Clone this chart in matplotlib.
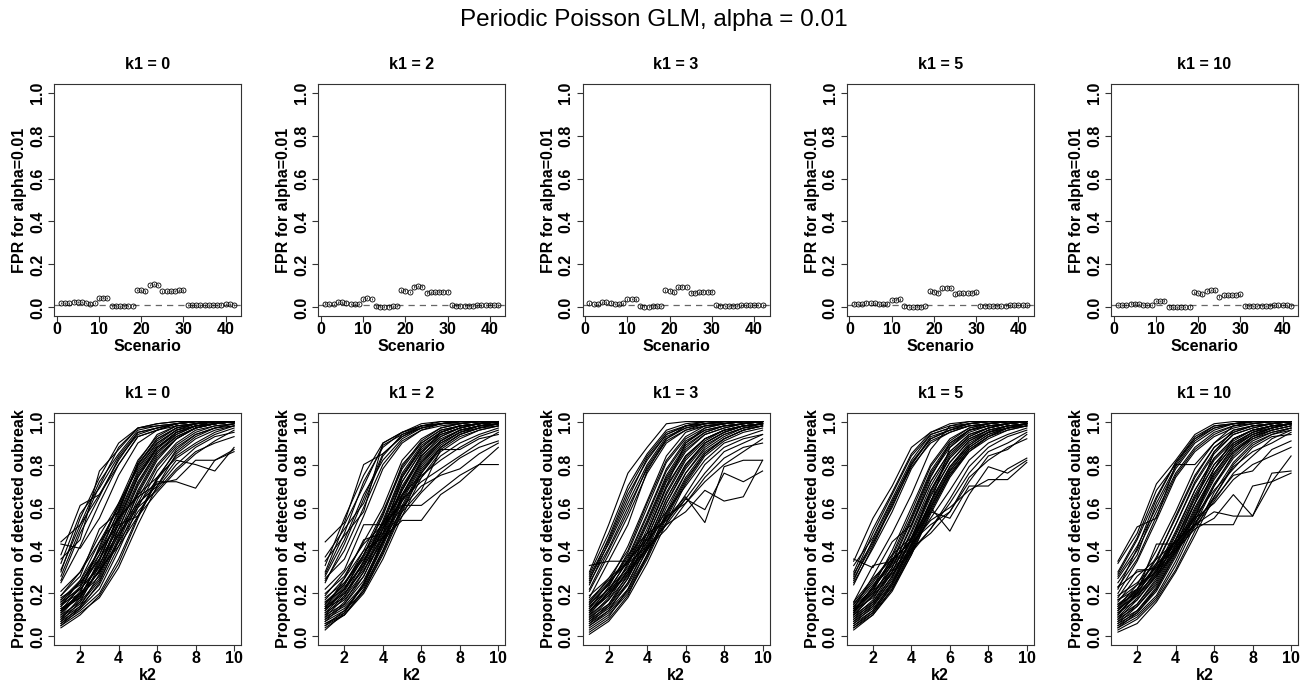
"""FPR and detection power of the periodic Poisson GLM, alpha = 0.01,
for several values of k1 (top: FPR per scenario, bottom: detection vs k2)."""
import numpy as np
import matplotlib
matplotlib.use("Agg")
import matplotlib.pyplot as plt

plt.rcParams["font.family"] = ["Liberation Sans", "DejaVu Sans"]

k1_values = [0, 2, 3, 5, 10]
scenarios = np.arange(1, 43)
k2_values = np.arange(1, 11)
alpha = 0.01

# false positive rate per scenario
fpr_k1_0 = [0.020, 0.019, 0.019, 0.027, 0.025, 0.025, 0.020, 0.017, 0.020,
            0.042, 0.045, 0.044,
            0.006, 0.005, 0.005, 0.006, 0.006, 0.007,
            0.081, 0.080, 0.075,
            0.105, 0.108, 0.105,
            0.075, 0.075, 0.075, 0.077, 0.080, 0.080,
            0.011, 0.010, 0.009, 0.009, 0.009, 0.009, 0.012, 0.012, 0.013, 0.015, 0.014, 0.012]
fpr_k1_2 = [0.017, 0.016, 0.016, 0.023, 0.023, 0.022, 0.016, 0.014, 0.016,
            0.038, 0.044, 0.039,
            0.005, 0.003, 0.003, 0.003, 0.005, 0.006,
            0.080, 0.078, 0.072,
            0.097, 0.100, 0.097,
            0.069, 0.070, 0.070, 0.073, 0.073, 0.073,
            0.009, 0.008, 0.008, 0.008, 0.008, 0.008, 0.010, 0.010, 0.011, 0.013, 0.012, 0.010]
fpr_k1_3 = [0.019, 0.016, 0.014, 0.023, 0.023, 0.022, 0.016, 0.016, 0.019,
            0.038, 0.039, 0.038,
            0.005, 0.003, 0.003, 0.005, 0.005, 0.006,
            0.080, 0.078, 0.070,
            0.094, 0.097, 0.095,
            0.069, 0.069, 0.070, 0.073, 0.073, 0.073,
            0.009, 0.008, 0.007, 0.007, 0.007, 0.008, 0.009, 0.010, 0.010, 0.012, 0.011, 0.009]
fpr_k1_5 = [0.017, 0.016, 0.016, 0.022, 0.020, 0.019, 0.014, 0.014, 0.017,
            0.034, 0.036, 0.038,
            0.005, 0.002, 0.002, 0.003, 0.003, 0.006,
            0.075, 0.073, 0.069,
            0.089, 0.092, 0.091,
            0.061, 0.066, 0.066, 0.067, 0.069, 0.070,
            0.008, 0.007, 0.006, 0.006, 0.006, 0.007, 0.008, 0.009, 0.009, 0.011, 0.010, 0.009]
fpr_k1_10 = [0.012, 0.011, 0.012, 0.017, 0.017, 0.016, 0.012, 0.011, 0.012,
             0.030, 0.030, 0.031,
             0.003, 0.000, 0.000, 0.002, 0.002, 0.003,
             0.070, 0.067, 0.061,
             0.077, 0.081, 0.080,
             0.050, 0.056, 0.056, 0.058, 0.058, 0.061,
             0.008, 0.007, 0.006, 0.006, 0.006, 0.007, 0.008, 0.009, 0.009, 0.011, 0.010, 0.008]

# proportion of detected outbreaks (percent), one row per scenario, columns k2 = 1..10
detect_k1_0 = [
    [44, 52, 66, 82, 95, 97, 99, 100, 100, 100],
    [43, 41, 55, 75, 90, 96, 99, 100, 100, 100],
    [38, 61, 66, 80, 93, 96, 99, 100, 100, 100],
    [36, 45, 77, 87, 97, 98, 99, 100, 100, 100],
    [31, 52, 72, 85, 96, 98, 99, 100, 100, 100],
    [28, 50, 70, 88, 97, 99, 100, 100, 100, 100],
    [26, 48, 65, 83, 94, 97, 99, 100, 100, 100],
    [30, 55, 74, 90, 97, 99, 100, 100, 100, 100],
    [25, 42, 62, 80, 93, 96, 98, 99, 100, 100],
    [34, 57, 69, 84, 95, 97, 99, 100, 100, 100],
    [21, 30, 47, 62, 78, 90, 96, 99, 100, 100],
    [18, 24, 40, 58, 80, 92, 97, 99, 100, 100],
    [17, 25, 36, 55, 74, 88, 95, 98, 99, 100],
    [16, 22, 33, 52, 72, 86, 94, 98, 99, 100],
    [15, 20, 30, 50, 70, 85, 93, 97, 99, 100],
    [14, 26, 44, 60, 79, 90, 96, 99, 100, 100],
    [13, 19, 28, 48, 68, 84, 92, 97, 99, 100],
    [12, 18, 35, 57, 77, 89, 96, 98, 100, 100],
    [11, 21, 38, 59, 80, 91, 97, 99, 100, 100],
    [10, 16, 27, 46, 66, 82, 92, 97, 99, 100],
    [10, 20, 42, 62, 82, 93, 98, 99, 100, 100],
    [9, 17, 31, 53, 74, 87, 95, 98, 99, 100],
    [9, 15, 26, 44, 64, 80, 90, 96, 98, 99],
    [8, 14, 24, 42, 62, 79, 89, 95, 98, 99],
    [8, 18, 36, 56, 76, 88, 95, 98, 99, 100],
    [7, 13, 22, 40, 60, 77, 88, 94, 97, 99],
    [7, 16, 33, 54, 75, 88, 94, 98, 99, 100],
    [6, 12, 20, 36, 56, 74, 86, 93, 97, 98],
    [6, 14, 29, 50, 71, 86, 93, 97, 99, 100],
    [5, 11, 18, 32, 52, 70, 85, 92, 96, 98],
    [5, 13, 25, 45, 67, 83, 92, 97, 99, 100],
    [4, 10, 19, 34, 55, 73, 87, 94, 97, 99],
    [12, 23, 41, 61, 80, 92, 97, 99, 100, 100],
    [19, 28, 50, 58, 81, 94, 98, 99, 100, 100],
    [17, 26, 40, 52, 56, 72, 72, 69, 82, 86],
    [15, 23, 36, 50, 62, 70, 82, 80, 77, 88],
    [19, 30, 44, 55, 65, 71, 73, 82, 82, 87],
    [14, 22, 32, 47, 60, 68, 78, 86, 90, 93],
    [12, 20, 30, 44, 58, 69, 80, 88, 93, 95],
    [16, 25, 38, 55, 66, 74, 83, 89, 94, 97],
    [13, 18, 31, 42, 56, 67, 77, 85, 91, 96],
    [11, 19, 34, 48, 61, 73, 84, 90, 95, 98],
]
detect_k1_2 = [
    [44, 53, 80, 85, 93, 98, 99, 100, 100, 100],
    [37, 50, 62, 84, 94, 97, 99, 100, 100, 100],
    [35, 47, 58, 90, 95, 98, 100, 100, 100, 100],
    [30, 52, 70, 89, 94, 98, 99, 100, 100, 100],
    [28, 45, 66, 82, 92, 97, 99, 100, 100, 100],
    [26, 40, 60, 80, 91, 96, 99, 99, 100, 100],
    [29, 48, 72, 88, 95, 99, 100, 100, 100, 100],
    [25, 43, 64, 85, 93, 97, 99, 100, 100, 100],
    [33, 55, 75, 90, 95, 98, 99, 100, 100, 100],
    [27, 36, 56, 78, 90, 96, 98, 99, 100, 100],
    [22, 31, 52, 52, 68, 85, 95, 98, 99, 100],
    [20, 28, 44, 60, 82, 92, 97, 99, 100, 100],
    [18, 25, 38, 56, 80, 90, 96, 98, 99, 100],
    [16, 22, 34, 53, 75, 88, 95, 98, 99, 100],
    [15, 24, 40, 58, 79, 91, 97, 99, 100, 100],
    [14, 20, 32, 50, 72, 86, 93, 97, 99, 100],
    [13, 18, 30, 48, 70, 84, 92, 96, 98, 99],
    [12, 22, 38, 57, 78, 90, 96, 98, 99, 100],
    [11, 17, 28, 46, 68, 83, 91, 96, 98, 99],
    [10, 19, 35, 54, 76, 89, 95, 98, 99, 100],
    [10, 15, 26, 44, 66, 81, 90, 95, 98, 99],
    [9, 18, 33, 52, 74, 87, 94, 97, 99, 100],
    [9, 14, 24, 42, 63, 79, 89, 95, 97, 99],
    [8, 16, 30, 50, 72, 86, 94, 97, 99, 100],
    [8, 13, 23, 40, 61, 78, 88, 94, 97, 98],
    [7, 15, 28, 47, 69, 84, 93, 97, 99, 100],
    [7, 12, 21, 38, 58, 76, 87, 93, 96, 98],
    [6, 11, 25, 45, 66, 82, 91, 96, 98, 99],
    [6, 10, 20, 36, 56, 74, 86, 92, 96, 98],
    [5, 12, 24, 43, 64, 80, 90, 95, 98, 99],
    [5, 10, 22, 40, 60, 77, 88, 94, 97, 99],
    [4, 10, 21, 39, 59, 76, 88, 94, 97, 99],
    [3, 11, 24, 44, 65, 81, 91, 96, 98, 100],
    [13, 27, 45, 48, 74, 88, 95, 98, 99, 100],
    [17, 27, 40, 46, 54, 54, 66, 72, 80, 80],
    [19, 30, 43, 52, 61, 61, 68, 75, 80, 88],
    [15, 25, 36, 48, 60, 70, 75, 78, 85, 90],
    [14, 23, 33, 46, 58, 68, 87, 87, 92, 94],
    [12, 21, 35, 50, 64, 72, 78, 84, 90, 95],
    [16, 24, 38, 53, 66, 75, 82, 88, 93, 96],
    [11, 20, 31, 44, 56, 67, 76, 83, 88, 91],
    [13, 22, 37, 51, 63, 74, 84, 90, 94, 97],
]
detect_k1_3 = [
    [33, 35, 52, 77, 92, 98, 100, 100, 100, 100],
    [30, 52, 76, 88, 99, 100, 100, 100, 100, 100],
    [29, 48, 70, 85, 96, 99, 100, 100, 100, 100],
    [28, 45, 66, 82, 94, 98, 99, 100, 100, 100],
    [27, 43, 62, 80, 93, 97, 99, 100, 100, 100],
    [26, 46, 68, 84, 95, 98, 100, 100, 100, 100],
    [25, 41, 60, 78, 91, 96, 99, 99, 100, 100],
    [24, 44, 64, 83, 94, 98, 99, 100, 100, 100],
    [22, 40, 58, 79, 92, 97, 99, 100, 100, 100],
    [21, 38, 56, 76, 90, 96, 98, 99, 100, 100],
    [18, 35, 35, 48, 70, 90, 97, 99, 100, 100],
    [16, 27, 40, 62, 82, 93, 98, 99, 100, 100],
    [15, 24, 37, 57, 78, 91, 96, 98, 99, 100],
    [14, 22, 35, 54, 75, 89, 95, 98, 99, 100],
    [13, 25, 42, 63, 84, 95, 98, 99, 100, 100],
    [12, 20, 33, 52, 73, 87, 94, 97, 99, 100],
    [12, 19, 30, 48, 70, 84, 92, 96, 98, 99],
    [11, 23, 39, 60, 81, 92, 97, 99, 100, 100],
    [10, 17, 28, 46, 66, 82, 91, 96, 98, 99],
    [10, 21, 36, 56, 77, 90, 96, 98, 99, 100],
    [9, 15, 27, 44, 64, 80, 90, 95, 98, 99],
    [9, 18, 34, 53, 74, 88, 95, 98, 99, 100],
    [8, 14, 25, 42, 62, 78, 89, 94, 97, 99],
    [8, 17, 31, 50, 72, 86, 94, 97, 99, 100],
    [7, 13, 24, 40, 60, 76, 87, 93, 97, 98],
    [7, 15, 29, 48, 69, 84, 92, 96, 98, 99],
    [6, 12, 22, 38, 57, 74, 86, 92, 96, 98],
    [6, 14, 27, 46, 67, 83, 92, 96, 98, 99],
    [5, 11, 21, 37, 56, 73, 85, 92, 96, 98],
    [5, 12, 25, 43, 64, 80, 90, 95, 98, 99],
    [4, 10, 20, 36, 55, 72, 85, 92, 96, 98],
    [3, 9, 22, 41, 62, 79, 90, 95, 98, 99],
    [2, 8, 19, 38, 58, 76, 88, 94, 97, 99],
    [1, 7, 18, 34, 53, 71, 84, 91, 95, 97],
    [19, 27, 35, 45, 55, 65, 53, 79, 82, 82],
    [17, 26, 34, 42, 52, 58, 68, 63, 65, 82],
    [15, 24, 38, 48, 54, 64, 59, 76, 72, 77],
    [14, 22, 32, 44, 56, 62, 74, 83, 88, 90],
    [13, 21, 31, 41, 50, 62, 72, 80, 86, 92],
    [12, 20, 30, 41, 52, 64, 76, 86, 90, 94],
    [11, 19, 29, 40, 53, 66, 80, 88, 92, 94],
    [16, 25, 35, 46, 58, 70, 82, 90, 93, 96],
]
detect_k1_5 = [
    [36, 32, 48, 66, 87, 98, 100, 100, 100, 100],
    [35, 55, 70, 88, 95, 99, 100, 100, 100, 100],
    [33, 46, 64, 82, 94, 97, 99, 100, 100, 100],
    [30, 50, 67, 85, 95, 98, 99, 100, 100, 100],
    [29, 44, 60, 80, 93, 96, 99, 100, 100, 100],
    [28, 48, 66, 84, 94, 97, 99, 100, 100, 100],
    [27, 43, 62, 81, 92, 96, 98, 99, 100, 100],
    [26, 45, 63, 80, 92, 96, 99, 100, 100, 100],
    [25, 41, 58, 78, 91, 95, 98, 99, 100, 100],
    [24, 42, 61, 79, 90, 95, 98, 99, 100, 100],
    [16, 33, 35, 45, 62, 88, 96, 99, 100, 100],
    [15, 25, 38, 58, 79, 91, 97, 99, 100, 100],
    [14, 22, 35, 55, 76, 89, 96, 98, 99, 100],
    [13, 20, 32, 52, 72, 86, 94, 97, 99, 100],
    [12, 23, 40, 60, 80, 92, 97, 99, 100, 100],
    [12, 18, 30, 48, 68, 83, 92, 96, 98, 99],
    [11, 21, 37, 56, 77, 90, 96, 98, 99, 100],
    [10, 16, 28, 46, 66, 81, 91, 95, 98, 99],
    [10, 19, 34, 54, 75, 88, 95, 98, 99, 100],
    [9, 15, 26, 43, 63, 79, 89, 95, 97, 99],
    [9, 17, 32, 51, 72, 86, 94, 97, 99, 100],
    [8, 14, 25, 41, 61, 77, 88, 94, 97, 99],
    [8, 16, 30, 49, 70, 85, 93, 97, 99, 100],
    [7, 13, 24, 40, 60, 76, 87, 93, 97, 98],
    [7, 15, 28, 46, 67, 83, 92, 96, 98, 99],
    [6, 12, 23, 39, 59, 75, 86, 93, 96, 98],
    [6, 14, 27, 45, 65, 81, 91, 96, 98, 99],
    [5, 11, 22, 38, 57, 74, 86, 92, 96, 98],
    [5, 12, 25, 43, 63, 79, 90, 95, 98, 99],
    [4, 11, 24, 42, 62, 78, 89, 95, 97, 99],
    [4, 10, 21, 38, 58, 75, 87, 93, 97, 98],
    [3, 10, 22, 40, 60, 77, 88, 94, 97, 99],
    [11, 23, 36, 44, 68, 84, 93, 97, 99, 100],
    [13, 28, 44, 52, 74, 90, 96, 98, 99, 100],
    [15, 26, 38, 46, 60, 49, 66, 79, 76, 82],
    [14, 24, 34, 43, 54, 60, 68, 73, 73, 81],
    [12, 22, 35, 45, 58, 55, 70, 70, 78, 83],
    [16, 27, 36, 44, 52, 58, 72, 84, 87, 94],
    [13, 21, 31, 41, 48, 58, 74, 82, 88, 92],
    [11, 20, 30, 40, 50, 62, 76, 86, 90, 95],
    [10, 19, 29, 39, 50, 64, 79, 88, 93, 96],
    [12, 23, 33, 42, 55, 68, 82, 90, 94, 97],
]
detect_k1_10 = [
    [35, 51, 55, 80, 80, 90, 98, 100, 100, 100],
    [34, 48, 71, 82, 94, 99, 100, 100, 100, 100],
    [29, 45, 65, 81, 92, 98, 99, 100, 100, 100],
    [28, 42, 60, 78, 90, 96, 99, 100, 100, 100],
    [27, 40, 58, 76, 88, 95, 98, 99, 100, 100],
    [25, 38, 62, 79, 91, 97, 99, 100, 100, 100],
    [23, 36, 56, 75, 87, 94, 98, 99, 100, 100],
    [22, 41, 64, 81, 93, 98, 99, 100, 100, 100],
    [20, 35, 54, 74, 86, 93, 97, 99, 100, 100],
    [30, 46, 68, 80, 92, 97, 99, 100, 100, 100],
    [18, 31, 31, 45, 62, 86, 96, 98, 99, 100],
    [17, 22, 36, 56, 75, 88, 95, 98, 99, 100],
    [15, 20, 33, 52, 72, 86, 94, 97, 99, 100],
    [14, 24, 40, 58, 78, 90, 96, 98, 99, 100],
    [13, 19, 30, 48, 68, 83, 92, 96, 98, 99],
    [12, 22, 37, 55, 74, 88, 95, 98, 99, 100],
    [11, 17, 28, 45, 65, 80, 90, 95, 98, 99],
    [10, 20, 34, 52, 71, 85, 94, 97, 99, 100],
    [9, 15, 26, 43, 62, 78, 89, 94, 97, 99],
    [9, 18, 31, 49, 68, 83, 92, 96, 98, 99],
    [8, 14, 24, 41, 60, 76, 88, 94, 97, 99],
    [8, 17, 29, 47, 66, 82, 91, 96, 98, 99],
    [7, 12, 22, 39, 58, 75, 87, 93, 96, 98],
    [7, 15, 27, 45, 64, 80, 90, 95, 98, 99],
    [6, 11, 21, 37, 56, 73, 86, 92, 96, 98],
    [6, 14, 25, 42, 62, 78, 89, 95, 97, 99],
    [5, 10, 19, 35, 54, 71, 84, 92, 95, 97],
    [5, 12, 23, 40, 59, 76, 88, 94, 97, 99],
    [4, 9, 18, 33, 52, 70, 83, 91, 95, 97],
    [4, 11, 22, 38, 57, 74, 86, 93, 96, 98],
    [3, 8, 17, 31, 49, 67, 81, 90, 94, 97],
    [2, 6, 16, 30, 47, 65, 80, 89, 94, 96],
    [10, 21, 43, 43, 55, 78, 92, 96, 98, 99],
    [16, 28, 36, 44, 54, 70, 85, 93, 97, 99],
    [23, 30, 32, 44, 52, 52, 52, 70, 72, 76],
    [19, 25, 34, 40, 50, 55, 66, 56, 76, 77],
    [17, 24, 30, 42, 52, 58, 56, 56, 72, 84],
    [15, 22, 32, 43, 55, 62, 73, 80, 84, 88],
    [14, 21, 31, 41, 53, 64, 75, 77, 87, 91],
    [12, 20, 29, 40, 52, 65, 79, 86, 90, 95],
    [13, 22, 33, 45, 56, 68, 78, 88, 93, 94],
    [11, 19, 28, 39, 51, 63, 76, 84, 92, 96],
]

fpr_all = [fpr_k1_0, fpr_k1_2, fpr_k1_3, fpr_k1_5, fpr_k1_10]
detect_all = [detect_k1_0, detect_k1_2, detect_k1_3, detect_k1_5, detect_k1_10]


def style_axis(ax, xlabel, ylabel, xticks, xlim):
    ax.set_xlim(*xlim)
    ax.set_ylim(-0.04, 1.04)
    ax.set_xticks(xticks)
    ax.set_yticks([0.0, 0.2, 0.4, 0.6, 0.8, 1.0])
    ax.set_yticklabels(["0.0", "0.2", "0.4", "0.6", "0.8", "1.0"])
    ax.tick_params(axis="both", direction="out", length=4, width=0.8,
                   labelsize=11.5, color="#333333")
    ax.tick_params(axis="x", pad=0.5)
    ax.tick_params(axis="y", pad=2.5, labelrotation=90)
    for lab in ax.get_xticklabels() + ax.get_yticklabels():
        lab.set_fontweight("bold")
    for lab in ax.get_yticklabels():
        lab.set_verticalalignment("center")
    for sp in ax.spines.values():
        sp.set_linewidth(0.8)
        sp.set_color("#333333")
    ax.set_xlabel(xlabel, fontsize=11.5, fontweight="bold", labelpad=1)
    ax.set_ylabel(ylabel, fontsize=11.5, fontweight="bold", labelpad=2)


fig = plt.figure(figsize=(13.08, 6.84), dpi=100)
W, H = 1308, 684
fig.suptitle(f"Periodic Poisson GLM, alpha = {alpha}", fontsize=17.5, y=1 - 20 / H, va="center")

for i, k1 in enumerate(k1_values):
    left = (54 + 264.25 * i) / W
    ax_top = fig.add_axes([left, 1 - 316 / H, 187 / W, 232 / H])
    ax_bot = fig.add_axes([left, 1 - 645 / H, 187 / W, 232 / H])

    # top: FPR per scenario
    fpr = np.array(fpr_all[i])
    ax_top.axhline(alpha, color="#666666", lw=0.9, ls=(0, (5, 4)))
    ax_top.vlines(scenarios, fpr - 0.006, fpr + 0.006, color="black", lw=0.5)
    ax_top.plot(scenarios, fpr, ls="none", marker="o", ms=3.6, mfc="none",
                mec="black", mew=0.6)
    style_axis(ax_top, "Scenario", "FPR for alpha=0.01", [0, 10, 20, 30, 40], (-0.64, 43.64))
    ax_top.set_title(f"k1 = {k1}", fontsize=11.5, fontweight="bold", pad=11)

    # bottom: detection proportion vs k2
    for row in detect_all[i]:
        ax_bot.plot(k2_values, np.array(row) / 100.0, color="black", lw=0.8)
    style_axis(ax_bot, "k2", "Proportion of detected oubreak", [2, 4, 6, 8, 10], (0.64, 10.36))
    ax_bot.set_title(f"k1 = {k1}", fontsize=11.5, fontweight="bold", pad=11)

fig.savefig("out.png", dpi=100)
